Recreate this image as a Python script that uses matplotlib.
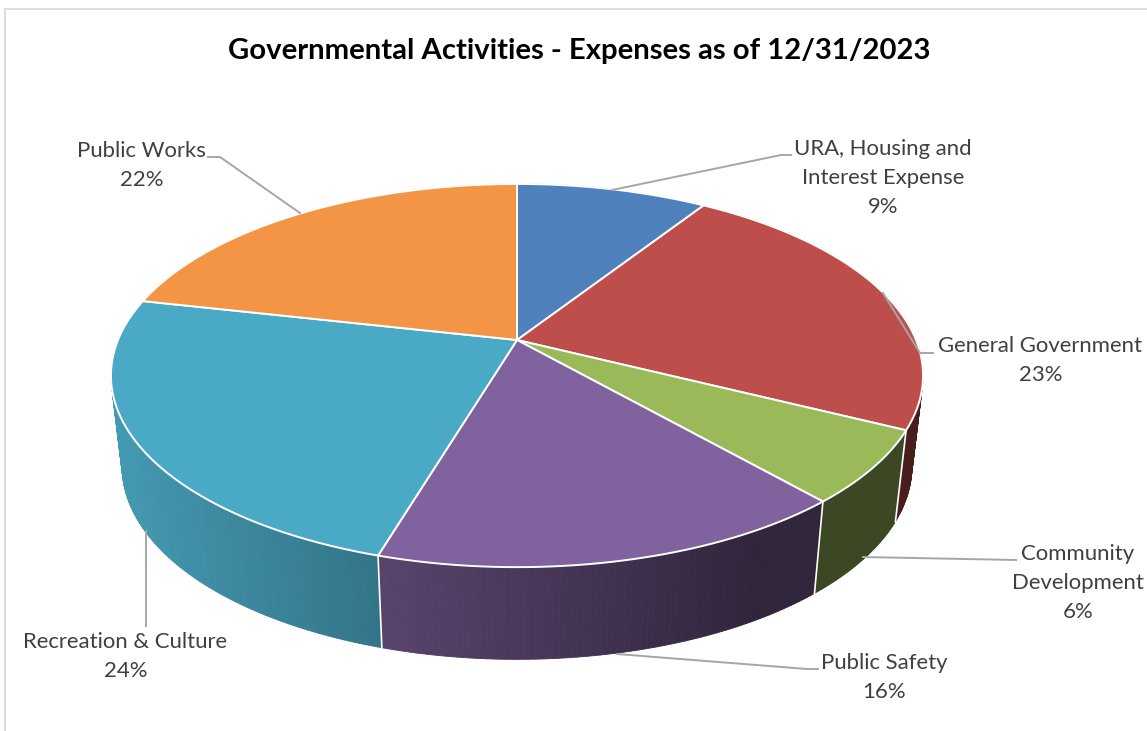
import numpy as np
import matplotlib
matplotlib.use("Agg")
import matplotlib.pyplot as plt
from matplotlib.collections import PolyCollection
from matplotlib.colors import to_rgb

plt.rcParams['font.family'] = ['Lato', 'DejaVu Sans']

# ---- data (shares as drawn, clockwise from 12 o'clock) ----
names = ["URA, Housing and\nInterest Expense", "General Government",
         "Community\nDevelopment", "Public Safety",
         "Recreation & Culture", "Public Works"]
shares = [9.1, 23.3, 6.15, 16.1, 23.9, 21.5]
colors = ["#4f81bd", "#be4e4c", "#9ab959", "#80629e", "#4aa9c4", "#f39545"]
percent_labels = ["9%", "23%", "6%", "16%", "24%", "22%"]
title_text = "Governmental Activities - Expenses as of 12/31/2023"

# label anchor (centre x, top-line centre y) and leader polylines, in pixels
label_pos = [(883, 149), (1040.5, 346), (1078, 554), (884.5, 663), (125.5, 642), (141.5, 151)]
leaders = [
    [(612, 190), (781, 155), (791, 155)],
    [(883, 293), (920, 353), (933, 353)],
    [(863, 557), (1016, 560)],
    [(617, 654), (807, 669), (818, 669)],
    [(146, 531), (146, 626)],
    [(208, 157), (220, 157), (300, 213)],
]

# ---- pie geometry: perspective projection of the disc ----
CX, CY = 517.0, 340.0
K = 0.1855
A_TOP, B_TOP = 399.0, 185.0
A_BOT, B_BOT, CY_BOT = 388.0, 186.0, 431.0


def project(theta, a, b, cy):
    X, Y = np.sin(theta), -np.cos(theta)
    w = 1 - K * Y
    return CX + a * X / w, cy + b * Y / w


def top(theta):
    return project(theta, A_TOP, B_TOP, CY)


def bottom(theta):
    return project(theta, A_BOT, B_BOT, CY_BOT)


def shade(base, x):
    f = np.clip(0.90 - (x - 122) * 0.00082, 0.38, 1.0)
    return tuple(c * f for c in to_rgb(base))


fig = plt.figure(figsize=(11.47, 7.31), dpi=100)
ax = fig.add_axes([0, 0, 1, 1])
ax.set_xlim(0, 1147)
ax.set_ylim(731, 0)
ax.axis("off")

# chart frame
ax.plot([5, 5, 1147], [731, 9, 9], color="#dcdcdc", lw=1.4, solid_joinstyle="miter")

edges = np.cumsum([0] + shares) / sum(shares) * 2 * np.pi

# side walls
quads, qcols, depth = [], [], []
for i, col in enumerate(colors):
    n = max(int(shares[i] * 5), 4)
    t = np.linspace(edges[i], edges[i + 1], n + 1)
    for t0, t1 in zip(t[:-1], t[1:]):
        p = [top(t0), top(t1), bottom(t1), bottom(t0)]
        quads.append(p)
        qcols.append(shade(col, 0.5 * (p[0][0] + p[1][0])))
        depth.append(-np.cos(0.5 * (t0 + t1)))
order = np.argsort(depth)
ax.add_collection(PolyCollection([quads[j] for j in order],
                                 facecolors=[qcols[j] for j in order],
                                 edgecolors=[qcols[j] for j in order],
                                 linewidths=0.6, zorder=2))
# white edges between wall segments
for e in edges[:-1]:
    if -np.cos(e) > -0.5:
        xa, ya = top(e)
        xb, yb = bottom(e)
        ax.plot([xa, xb], [ya, yb], color="white", lw=1.2, zorder=2.5)

# top faces
for i, col in enumerate(colors):
    t = np.linspace(edges[i], edges[i + 1], max(int(shares[i] * 6), 8))
    xs, ys = top(t)
    ax.fill(np.r_[CX, xs], np.r_[CY, ys], facecolor=col, edgecolor="white",
            lw=1.4, joinstyle="round", zorder=3)

# leader lines
for pts in leaders:
    xs, ys = zip(*pts)
    ax.plot(xs, ys, color="#a6a6a6", lw=1.4, zorder=4, solid_joinstyle="round")

# labels
LINE = 29
for name, pct, (x, y) in zip(names, percent_labels, label_pos):
    for j, line in enumerate(name.split("\n") + [pct]):
        ax.text(x, y + j * LINE, line, ha="center", va="center",
                fontsize=15.9, color="#404040", zorder=5)

ax.text(579, 51.5, title_text, ha="center", va="center", fontsize=21.1,
        fontweight="bold", color="black", zorder=5)

fig.savefig("out.png", dpi=100, facecolor="white")
